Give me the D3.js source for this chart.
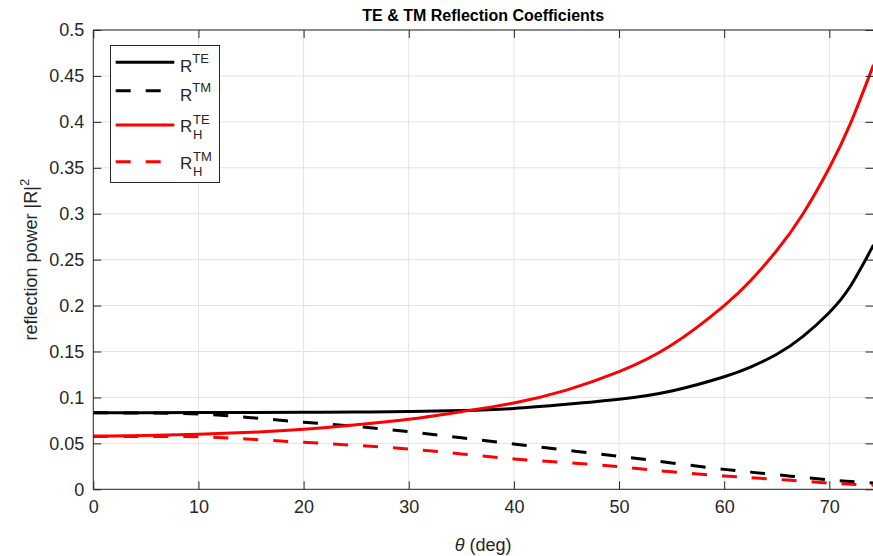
<!DOCTYPE html>
<html><head><meta charset="utf-8">
<script src="https://cdn.jsdelivr.net/npm/d3@7"></script>
<style>
html,body{margin:0;padding:0;background:#fff;}
svg{display:block;font-family:"Liberation Sans",Arial,Helvetica,sans-serif;}
</style></head>
<body><svg id="chart" width="873" height="556"></svg>
<script>
// ---- data ----
const theta   = [0, 5, 10, 15, 20, 25, 30, 35, 40, 45, 50, 55, 60, 62.5, 65, 67.5, 70, 72, 74.2];
const R_TE    = [0.0834,0.0834,0.0835,0.0837,0.0839,0.0842,0.0846,0.0858,0.088,0.0925,0.098,0.107,0.1225,0.133,0.147,0.1665,0.1925,0.221,0.266];
const R_TM    = [0.0834,0.083,0.082,0.078,0.073,0.0685,0.0627,0.056,0.0493,0.0425,0.036,0.0287,0.0217,0.0187,0.0158,0.013,0.0101,0.0085,0.0068];
const RH_TE   = [0.058,0.0585,0.0599,0.062,0.0653,0.0702,0.0762,0.0845,0.094,0.108,0.128,0.157,0.2,0.227,0.26,0.3,0.35,0.398,0.462];
const RH_TM   = [0.0575,0.0575,0.0573,0.0545,0.0512,0.0478,0.0439,0.0385,0.033,0.029,0.0246,0.019,0.0145,0.0126,0.0109,0.0088,0.0068,0.0056,0.0045];
const xTicks  = [0, 10, 20, 30, 40, 50, 60, 70];
const yTicks  = [0, 0.05, 0.1, 0.15, 0.2, 0.25, 0.3, 0.35, 0.4, 0.45, 0.5];
const yTickLabels = ["0","0.05","0.1","0.15","0.2","0.25","0.3","0.35","0.4","0.45","0.5"];
const seriesNames = ["TE","TM","TE","TM"];
const seriesSub   = ["","","H","H"];
const seriesColors= ["#000000","#000000","#ff0000","#ff0000"];
const seriesDash  = [false,true,false,true];
const seriesVals  = [R_TE, R_TM, RH_TE, RH_TM];
const xDomain = [0, 74.2];
const yDomain = [0, 0.5];

// ---- layout ----
const L = 93.3, T = 30, R = 873.5, B = 489.3;
const svg = d3.select("#chart");
const x = d3.scaleLinear().domain(xDomain).range([L, R]);
const y = d3.scaleLinear().domain(yDomain).range([B, T]);
const axisCol = "#262626";
const gridCol = "#e3e3e3";

// grid
svg.append("g").selectAll("line.gx").data(xTicks).join("line")
  .attr("x1", d=>x(d)).attr("x2", d=>x(d)).attr("y1", T).attr("y2", B)
  .attr("stroke", gridCol).attr("stroke-width", 1);
svg.append("g").selectAll("line.gy").data(yTicks).join("line")
  .attr("y1", d=>y(d)).attr("y2", d=>y(d)).attr("x1", L).attr("x2", R)
  .attr("stroke", gridCol).attr("stroke-width", 1);

// curves
const line = d3.line().curve(d3.curveNatural);
seriesVals.forEach((vals, i) => {
  const pts = theta.map((t, j) => [x(t), y(vals[j])]);
  svg.append("path").attr("d", line(pts)).attr("fill", "none")
    .attr("stroke", seriesColors[i]).attr("stroke-width", 3)
    .attr("stroke-dasharray", seriesDash[i] ? "15,15" : null);
});

// axes (inside ticks)
const tickLen = 8;
const bottom = d3.axisBottom(x).tickValues(xTicks).tickSize(tickLen).tickFormat(d3.format("d"));
const left = d3.axisLeft(y).tickValues(yTicks).tickSize(tickLen).tickFormat((d,i)=>yTickLabels[i]);
const gB = svg.append("g").attr("transform", `translate(0,${B})`).call(bottom);
gB.selectAll(".tick line").attr("y2", -tickLen);
gB.selectAll(".tick text").attr("y", 11).attr("dy", "0.71em");
const gL = svg.append("g").attr("transform", `translate(${L},0)`).call(left);
gL.selectAll(".tick line").attr("x2", tickLen);
gL.selectAll(".tick text").attr("x", -9);
const gT = svg.append("g").attr("transform", `translate(0,${T})`).call(d3.axisTop(x).tickValues(xTicks).tickSize(tickLen).tickFormat(""));
gT.selectAll(".tick line").attr("y2", tickLen);
const gR = svg.append("g").attr("transform", `translate(${R},0)`).call(d3.axisRight(y).tickValues(yTicks).tickSize(tickLen).tickFormat(""));
gR.selectAll(".tick line").attr("x2", -tickLen);
[gB, gL, gT, gR].forEach(g => {
  g.select(".domain").attr("stroke", axisCol).attr("stroke-width", 1);
  g.selectAll(".tick line").attr("stroke", axisCol).attr("stroke-width", 1);
  g.selectAll(".tick text").attr("fill", axisCol).attr("font-size", 18)
    .attr("font-family", "'Liberation Sans',Arial,Helvetica,sans-serif");
});
gB.select(".domain").attr("d", `M${L},0H${R}`);
gT.select(".domain").attr("d", `M${L},0H${R}`);
gL.select(".domain").attr("d", `M0,${T}V${B}`);
gR.select(".domain").attr("d", `M0,${T}V${B}`);

// title
svg.append("text").attr("x", (L + 873) / 2).attr("y", 21).attr("text-anchor", "middle")
  .attr("font-size", 16).attr("font-weight", "bold").attr("fill", "#000")
  .text("TE & TM Reflection Coefficients");

// x label
const xl = svg.append("text").attr("x", (L + 873) / 2).attr("y", 551).attr("text-anchor", "middle")
  .attr("font-size", 18).attr("fill", axisCol);
xl.append("tspan").attr("font-style", "italic").text("θ");
xl.append("tspan").text(" (deg)");

// y label
const yl = svg.append("text").attr("transform", `translate(37,${(T + B) / 2}) rotate(-90)`)
  .attr("text-anchor", "middle").attr("font-size", 18).attr("fill", axisCol);
yl.append("tspan").text("reflection power |R|");
yl.append("tspan").attr("font-size", 13).attr("dy", -8).text("2");

// legend
const lg = svg.append("g");
lg.append("rect").attr("x", 110.5).attr("y", 45.5).attr("width", 109).attr("height", 137)
  .attr("fill", "#fff").attr("stroke", axisCol).attr("stroke-width", 1);
const legY = [62.3, 90.7, 125, 161.7];
seriesNames.forEach((nm, i) => {
  lg.append("line").attr("x1", 115.7).attr("x2", 174.3).attr("y1", legY[i]).attr("y2", legY[i])
    .attr("stroke", seriesColors[i]).attr("stroke-width", 3)
    .attr("stroke-dasharray", seriesDash[i] ? "15,15" : null);
  const base = seriesSub[i] ? legY[i] + 7 : legY[i] + 10;
  const t = lg.append("text").attr("x", 180).attr("y", base).attr("font-size", 17).attr("fill", axisCol);
  t.append("tspan").text("R");
  if (seriesSub[i]) {
    t.append("tspan").attr("x", 193).attr("dy", -8).attr("font-size", 13).text(nm);
    t.append("tspan").attr("x", 193).attr("dy", 15).attr("font-size", 13).text(seriesSub[i]);
  } else {
    t.append("tspan").attr("dy", -9).attr("font-size", 13).text(nm);
  }
});
</script></body></html>
